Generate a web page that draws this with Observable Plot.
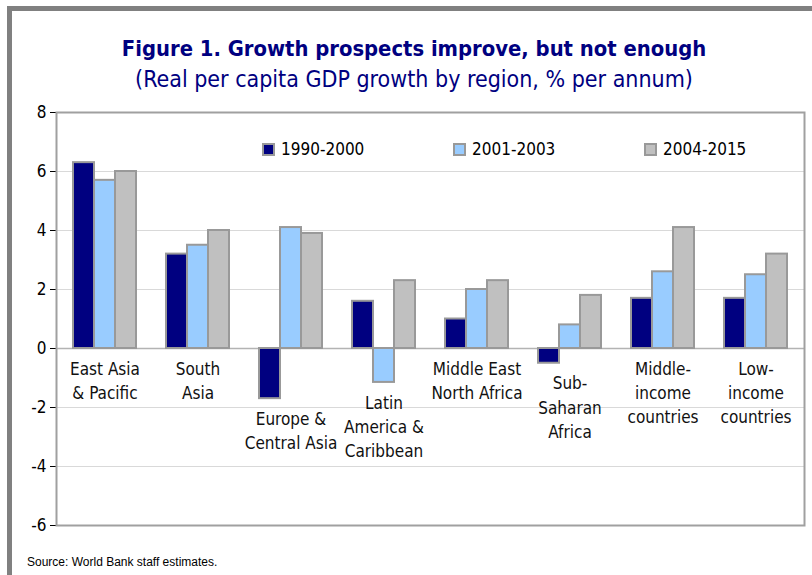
<!DOCTYPE html>
<html>
<head>
<meta charset="utf-8">
<script src="https://cdn.jsdelivr.net/npm/d3@7"></script>
<script src="https://cdn.jsdelivr.net/npm/@observablehq/plot@0.6"></script>
<style>
  html, body { margin: 0; padding: 0; background: #fff; }
  #wrap { position: relative; width: 812px; height: 575px; overflow: hidden; background: #fff;
          font-family: "DejaVu Sans Condensed", "DejaVu Sans", sans-serif; font-stretch: condensed; }
  #outer { position: absolute; left: 7px; top: 6px; width: 900px; height: 700px;
           border-left: 5px solid #808080; border-top: 5px solid #808080; box-sizing: border-box; }
  .title { position: absolute; left: 8px; width: 812px; text-align: center; color: #000080; white-space: nowrap; line-height: 1; }
  #t1 { top: 38px; font-size: 21.8px; font-weight: bold; }
  #t2 { top: 68px; font-size: 23px; }
  #chart { position: absolute; left: 0; top: 90px; }
  #legend { position: absolute; top: 139px; left: 0; height: 20px; }
  .item { position: absolute; top: 0; display: flex; align-items: center; font-size: 17px; color: #000; white-space: nowrap; }
  .sw { width: 9px; height: 9px; border: 2px solid #999; margin-right: 6px; }
  #source { position: absolute; left: 27px; top: 555px; font-family: "Liberation Sans", Arial, sans-serif;
            font-size: 12px; color: #000; }
</style>
</head>
<body>
<div id="wrap">
  <div id="outer"></div>
  <div class="title" id="t1">Figure 1. Growth prospects improve, but not enough</div>
  <div class="title" id="t2">(Real per capita GDP growth by region, % per annum)</div>
  <div id="chart"></div>
  <div id="legend"></div>
  <div id="source">Source: World Bank staff estimates.</div>
</div>
<script>
// ---- data ----
const regions = [
  "East Asia\n& Pacific",
  "South\nAsia",
  "Europe &\nCentral Asia",
  "Latin\nAmerica &\nCaribbean",
  "Middle East\nNorth Africa",
  "Sub-\nSaharan\nAfrica",
  "Middle-\nincome\ncountries",
  "Low-\nincome\ncountries"
];
const seriesNames = ["1990-2000", "2001-2003", "2004-2015"];
const v1990_2000 = [6.3, 3.2, -1.7, 1.6, 1.0, -0.5, 1.7, 1.7];
const v2001_2003 = [5.7, 3.5, 4.1, -1.15, 2.0, 0.8, 2.6, 2.5];
const v2004_2015 = [6.0, 4.0, 3.9, 2.3, 2.3, 1.8, 4.1, 3.2];
const yTicks = [-6, -4, -2, 0, 2, 4, 6, 8];
const colors = ["#000080", "#99ccff", "#c0c0c0"];

// ---- build table ----
const seriesValues = [v1990_2000, v2001_2003, v2004_2015];
const rows = [];
seriesNames.forEach((s, si) => regions.forEach((r, ri) => rows.push({region: r, series: s, value: seriesValues[si][ri]})));
const labelRows = regions.map((r, ri) => ({region: r, low: Math.min(0, ...seriesValues.map(a => a[ri]))}));

const font = "'DejaVu Sans Condensed', 'DejaVu Sans', sans-serif";
const barW = 21;

const plot = Plot.plot({
  width: 812,
  height: 485,
  marginTop: 22,
  marginBottom: 50,
  marginLeft: 56,
  marginRight: 8,
  style: {fontFamily: font, fontSize: "17px", color: "#000", background: "transparent", fontStretch: "condensed"},
  x: {type: "band", domain: regions, paddingInner: 0.7754, paddingOuter: 0.3877, axis: null},
  y: {domain: [-6, 8], ticks: yTicks, tickSize: 6, tickPadding: 4, label: null, tickFormat: d => d < 0 ? "-" + Math.abs(d) : String(d)},
  marks: [
    Plot.ruleY(yTicks.filter(t => t !== 0 && t !== 8 && t !== -6), {stroke: "#d9d9d9", strokeWidth: 1.2}),
    Plot.ruleY([0], {stroke: "#b3b3b3", strokeWidth: 1.5}),
    ...seriesNames.map((s, si) => Plot.barY(rows.filter(d => d.series === s), {
      x: "region", y1: () => 0, y2: "value", fill: colors[si], stroke: "#999999", strokeWidth: 2,
      dx: (si - 1) * barW
    })),
    Plot.frame({stroke: "#a0a0a0", strokeWidth: 2}),
    Plot.text(labelRows, {
      x: "region", y: "low", text: "region", lineAnchor: "top", dy: 9, lineHeight: 1.42,
      fontSize: 17, fill: "#111"
    })
  ]
});
document.getElementById("chart").appendChild(plot);

// legend
const legend = document.getElementById("legend");
const legendX = [262, 453, 644];
seriesNames.forEach((s, i) => {
  const it = document.createElement("div");
  it.className = "item";
  it.style.left = legendX[i] + "px";
  it.innerHTML = `<div class="sw" style="background:${colors[i]}"></div><span>${s}</span>`;
  legend.appendChild(it);
});
</script>
</body>
</html>
